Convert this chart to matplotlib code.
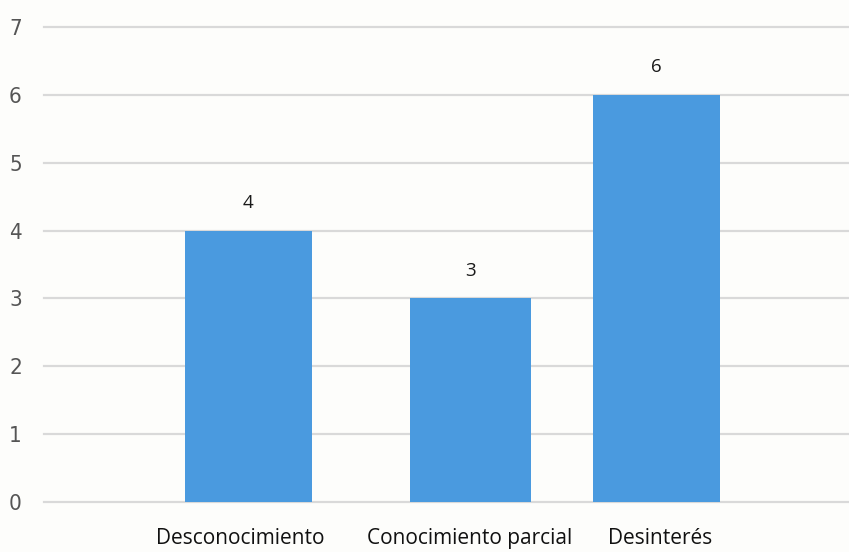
import matplotlib
matplotlib.use("Agg")
import matplotlib.pyplot as plt

# Data
categories = ["Desconocimiento", "Conocimiento parcial", "Desinterés"]
values = [4, 3, 6]
y_ticks = [0, 1, 2, 3, 4, 5, 6, 7]

# Layout (bar centres / widths / label anchors in axis units)
bar_pos = [0.0, 1.0, 1.838]
bar_width = [0.572, 0.545, 0.572]
label_pos = [-0.038, 0.998, 1.854]

bar_color = "#4A9ADF"
bg = "#FDFDFB"

fig = plt.figure(figsize=(8.49, 5.52), dpi=100, facecolor=bg)
ax = fig.add_axes([44 / 849, 50 / 552, 805 / 849, 475 / 552], facecolor=bg)

ax.set_xlim(-0.921, 2.705)
ax.set_ylim(0, 7)

for y in y_ticks:
    ax.axhline(y, color="#D9D9D9", lw=1.6, zorder=0, clip_on=False)

ax.bar(bar_pos, values, width=bar_width, color=bar_color, zorder=2)

for x, v in zip(bar_pos, values):
    ax.annotate(str(v), (x, v), xytext=(0, 20), textcoords="offset points",
                ha="center", va="center", fontsize=13.5, family="Open Sans",
                color="#1a1a1a")

for s in ax.spines.values():
    s.set_visible(False)

ax.set_yticks(y_ticks)
ax.set_yticklabels([str(t) for t in y_ticks], fontsize=16,
                   family="DejaVu Sans", fontstretch="condensed", color="#555555")
ax.tick_params(axis="y", length=0, pad=16)

ax.set_xticks(label_pos)
ax.set_xticklabels(categories, fontsize=15, family="Open Sans", color="#111111")
ax.tick_params(axis="x", length=0, pad=19)

fig.savefig("out.png", dpi=100, facecolor=bg)
